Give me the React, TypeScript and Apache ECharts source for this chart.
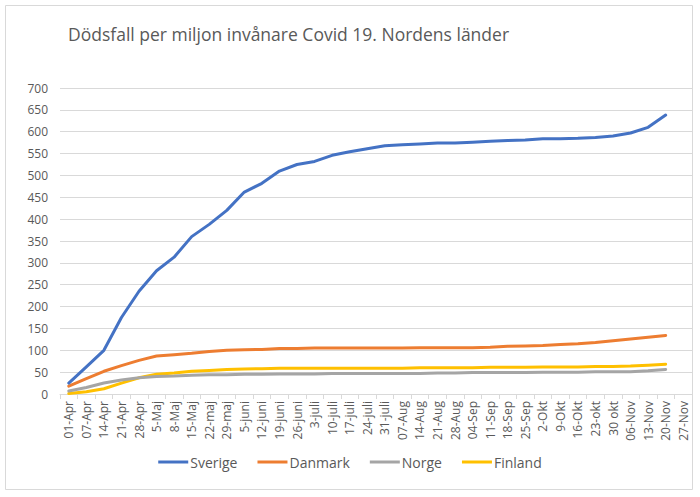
import React, { useEffect, useRef } from "react";
import * as echarts from "echarts";

const categories = [
  "01-Apr", "07-Apr", "14-Apr", "21-Apr", "28-Apr", "5-Maj", "8-Maj", "15-Maj", "22-maj", "29-maj",
  "5-juni", "12-juni", "19-juni", "26-juni", "3-juli", "10-juli", "17-juli", "24-juli", "31-juli",
  "07-Aug", "14-Aug", "21-Aug", "28-Aug", "04-Sep", "11-Sep", "18-Sep", "25-Sep", "2-Okt", "9-Okt",
  "16-Okt", "23-okt", "30 okt", "06-Nov", "13-Nov", "20-Nov", "27-Nov",
];

const sverige = [
  25, 62, 100, 175, 235, 282, 313, 360, 388, 420, 462, 482, 510, 525, 532, 546, 554, 561, 568,
  570, 572, 574, 574, 576, 578, 580, 581, 584, 584, 585, 587, 590, 597, 610, 638, null,
];
const danmark = [
  18, 35, 52, 65, 77, 87, 90, 93, 97, 100, 101, 102, 104, 104, 105, 105, 105, 105, 105,
  105, 106, 106, 106, 106, 107, 109, 110, 111, 113, 115, 118, 122, 126, 130, 134, null,
];
const norge = [
  7, 15, 25, 32, 37, 40, 41, 43, 44, 44, 45, 45, 46, 46, 46, 47, 47, 47, 47,
  47, 47, 48, 48, 49, 49, 49, 49, 50, 50, 50, 51, 51, 51, 53, 56, null,
];
const finland = [
  1, 5, 12, 25, 37, 45, 48, 52, 54, 56, 57, 58, 59, 59, 59, 59, 59, 59, 59,
  59, 60, 60, 60, 60, 61, 61, 61, 62, 62, 62, 63, 63, 64, 66, 68, null,
];

const seriesNames = ["Sverige", "Danmark", "Norge", "Finland"];
const colors = ["#4472C4", "#ED7D31", "#A5A5A5", "#FFC000"];

export default function App() {
  const ref = useRef<HTMLDivElement>(null);
  useEffect(() => {
    document.body.style.margin = "0";
    const chart = echarts.init(ref.current!, undefined, { renderer: "svg" });
    const font = "'Open Sans', 'Noto Sans', sans-serif";
    const data = [sverige, danmark, norge, finland];
    chart.setOption({
      animation: false,
      backgroundColor: "#ffffff",
      textStyle: { fontFamily: font },
      title: {
        text: "Dödsfall per miljon invånare Covid 19. Nordens länder",
        left: 63,
        top: 20,
        textStyle: { fontFamily: font, fontSize: 17.5, fontWeight: "normal", color: "#595959" },
      },
      graphic: [
        {
          type: "rect",
          shape: { x: 5.5, y: 5.5, width: 687, height: 484 },
          style: { fill: "none", stroke: "#D9D9D9", lineWidth: 1 },
          silent: true,
        },
      ],
      legend: {
        bottom: 23,
        left: "center",
        itemWidth: 30,
        itemHeight: 3,
        itemGap: 20,
        icon: "rect",
        data: seriesNames,
        textStyle: { fontFamily: font, fontSize: 14, color: "#595959", padding: [0, 0, 0, -3] },
      },
      grid: { left: 60, right: 8, top: 88, bottom: 103, containLabel: false },
      xAxis: {
        type: "category",
        data: categories,
        boundaryGap: true,
        axisLine: { lineStyle: { color: "#D9D9D9" } },
        axisTick: { show: true, lineStyle: { color: "#D9D9D9" }, length: 5 },
        axisLabel: {
          rotate: 90,
          interval: 0,
          color: "#595959",
          fontSize: 12,
          fontFamily: font,
          margin: 7,
        },
      },
      yAxis: {
        type: "value",
        min: 0,
        max: 700,
        interval: 50,
        axisLine: { show: false },
        axisTick: { show: false },
        splitLine: { lineStyle: { color: "#D9D9D9" } },
        axisLabel: { color: "#595959", fontSize: 12, fontFamily: font, margin: 12 },
      },
      series: seriesNames.map((name, i) => ({
        name,
        type: "line",
        data: data[i],
        showSymbol: false,
        symbol: "none",
        color: colors[i],
        lineStyle: { width: 3, color: colors[i], cap: "round", join: "round" },
        z: 10 - i,
      })),
    });
    return () => chart.dispose();
  }, []);
  return <div ref={ref} style={{ width: 700, height: 497 }} />;
}
